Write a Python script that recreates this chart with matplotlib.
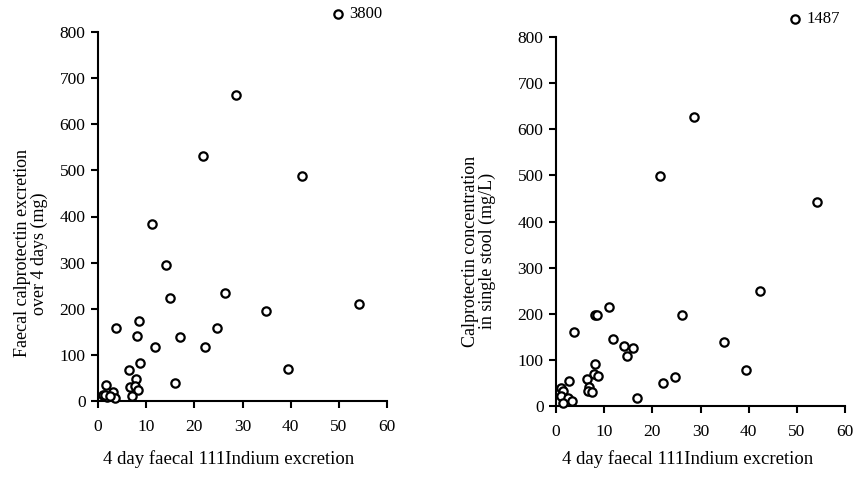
import matplotlib
matplotlib.use("Agg")
import matplotlib.pyplot as plt

plt.rcParams['font.family'] = ['Liberation Serif', 'DejaVu Serif']

# Left panel: 4 day faecal calprotectin excretion (mg)
left_x = [28.7, 21.7, 42.4, 11.3, 14.2, 14.9, 26.3, 34.9, 54.1, 24.7,
          3.8, 8.6, 8.2, 17.0, 11.8, 22.3, 8.8, 6.4, 39.5, 16.0,
          7.9, 6.7, 7.6, 8.3, 7.1, 1.7, 1.0, 3.2, 1.8, 3.5, 1.4, 2.4]
left_y = [663, 531, 487, 383, 294, 223, 234, 195, 211, 158,
          158, 174, 142, 138, 118, 118, 82, 67, 70, 38,
          47, 30, 33, 23, 10, 35, 14, 20, 9, 7, 12, 10]
left_out_x = 49.8
left_out_label = "3800"

# Right panel: calprotectin concentration in single stool (mg/L)
right_x = [28.6, 21.6, 54.1, 42.4, 39.4, 3.7, 8.2, 8.5, 11.1, 11.8,
           14.1, 16.0, 14.7, 26.2, 34.9, 24.7, 22.2, 16.9, 8.2, 7.8,
           8.8, 6.4, 6.9, 6.6, 7.5, 2.8, 1.0, 1.5, 1.0, 2.4, 3.3, 1.5]
right_y = [626, 498, 442, 250, 77, 161, 197, 197, 214, 145,
           130, 125, 109, 197, 138, 62, 50, 18, 90, 70,
           65, 58, 42, 33, 30, 54, 38, 33, 21, 18, 11, 6]
right_out_x = 49.6
right_out_label = "1487"

out_y = 838
x_label = "4 day faecal 111Indium excretion"


def draw_panel(ax, xs, ys, out_x, out_label, ylabel, ylab_pos, xlab_pos):
    ax.plot(xs, ys, 'o', mfc='white', mec='black', ms=6, mew=1.6,
            clip_on=False, zorder=3)
    ax.plot([out_x], [out_y], 'o', mfc='white', mec='black', ms=6,
            mew=1.6, clip_on=False, zorder=3)
    ax.annotate(out_label, (out_x, out_y), xytext=(8, 0),
                textcoords='offset points', va='center', ha='left',
                fontsize=12, annotation_clip=False)
    ax.set_xlim(0, 60)
    ax.set_ylim(0, 800)
    ax.set_xticks(range(0, 61, 10))
    ax.set_yticks(range(0, 801, 100))
    for s in ['top', 'right']:
        ax.spines[s].set_visible(False)
    for s in ['left', 'bottom']:
        ax.spines[s].set_linewidth(1.5)
    ax.tick_params(direction='out', length=5, width=1.5, labelsize=12.5,
                   pad=4)
    ax.tick_params(axis='x', pad=8)
    ax.set_xlabel(x_label, fontsize=13.5)
    ax.xaxis.set_label_coords(*xlab_pos)
    ax.set_ylabel(ylabel, fontsize=13, linespacing=0.95)
    ax.yaxis.set_label_coords(*ylab_pos)


fig = plt.figure(figsize=(8.55, 4.8), dpi=100)
ax1 = fig.add_axes([98 / 855, 79 / 480, 289 / 855, 369 / 480])
ax2 = fig.add_axes([556 / 855, 74 / 480, 289 / 855, 369 / 480])

draw_panel(ax1, left_x, left_y, left_out_x, left_out_label,
           "Faecal calprotectin excretion\nover 4 days (mg)",
           (-0.173, 0.40), (0.453, -0.133))
draw_panel(ax2, right_x, right_y, right_out_x, right_out_label,
           "Calprotectin concentration\nin single stool (mg/L)",
           (-0.208, 0.42), (0.457, -0.119))

fig.savefig("out.png", dpi=100)
